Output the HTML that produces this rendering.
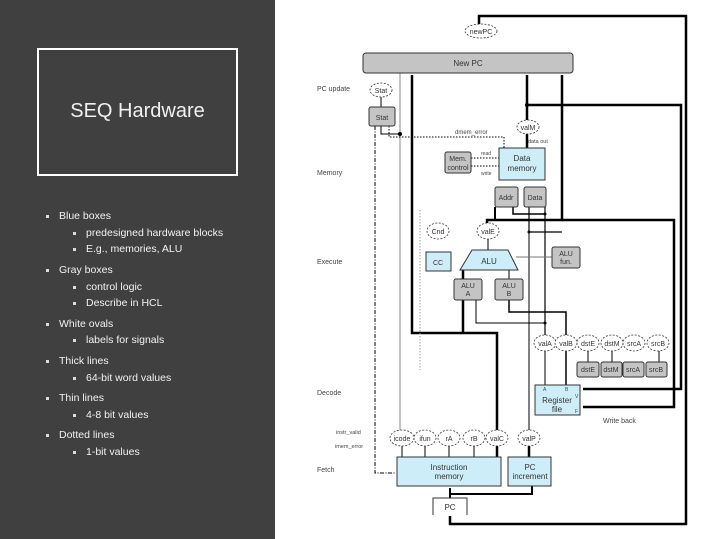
<!DOCTYPE html>
<html><head><meta charset="utf-8"><style>
html,body{margin:0;padding:0;width:719px;height:539px;overflow:hidden;background:#fff;font-family:"Liberation Sans",sans-serif}
#left{position:absolute;left:0;top:0;width:275px;height:539px;background:#404040;color:#fff}
#tb{position:absolute;left:37px;top:48px;width:197px;height:124px;border:2px solid #fff}
#tb div{position:absolute;left:0;right:0;top:50px;text-align:center;font-size:20px;font-weight:300;color:#f0f0f0}
.b{position:absolute;font-size:10.5px;color:#f2f2f2;white-space:nowrap}
.b:before{content:"";position:absolute;left:-13px;top:5px;width:3px;height:3px;background:#ddd}
svg{position:absolute;left:0;top:0}
</style></head><body>
<div id="left">
<div id="tb"><div>SEQ Hardware</div></div>
<div class="b" style="left:59px;top:210px">Blue boxes</div>
<div class="b" style="left:86px;top:227px">predesigned hardware blocks</div>
<div class="b" style="left:86px;top:243px">E.g., memories, ALU</div>
<div class="b" style="left:59px;top:264px">Gray boxes</div>
<div class="b" style="left:86px;top:281px">control logic</div>
<div class="b" style="left:86px;top:297px">Describe in HCL</div>
<div class="b" style="left:59px;top:318px">White ovals</div>
<div class="b" style="left:86px;top:334px">labels for signals</div>
<div class="b" style="left:59px;top:355px">Thick lines</div>
<div class="b" style="left:86px;top:372px">64-bit word values</div>
<div class="b" style="left:59px;top:392px">Thin lines</div>
<div class="b" style="left:86px;top:409px">4-8 bit values</div>
<div class="b" style="left:59px;top:429px">Dotted lines</div>
<div class="b" style="left:86px;top:446px">1-bit values</div>
</div>
<svg width="719" height="539" viewBox="0 0 719 539" font-family="Liberation Sans, sans-serif" font-size="7" fill="#333">
<g stroke="#000" fill="none">
<!-- outer loop -->
<polyline points="479,25 479,16 686,16 686,524 450,524 450,516" stroke-width="2.5"/>
<!-- valM -->
<polyline points="527,120 527,75" stroke-width="2.5"/>
<polyline points="527,105 681,105 681,389 583,389" stroke-width="2.5"/>
<line x1="527" y1="148" x2="527" y2="134" stroke-width="2.5"/>
<!-- valE -->
<polyline points="562,75 562,220 487,220 487,224" stroke-width="2.5"/>
<polyline points="562,220 674,220 674,407 583,407" stroke-width="2.5"/>
<line x1="488" y1="238" x2="488" y2="250" stroke-width="1"/>
<polyline points="495,207 495,220" stroke-width="2"/>
<!-- data lines -->
<polyline points="529,207 529,232 562,232" stroke-width="1.2"/>
<polyline points="545,207 545,336" stroke-width="1.2"/>
<polyline points="513,207 513,214 545,214" stroke-width="1.5"/>
<polyline points="476,300 476,323 545,323" stroke-width="1"/>
<polyline points="509,300 509,312 566,312 566,336" stroke-width="1.5"/>
<line x1="529" y1="232" x2="529" y2="450" stroke-width="1"/>
<!-- valC / x412 -->
<polyline points="412,75 412,333 497,333 497,431" stroke-width="2.5"/>
<line x1="463" y1="333" x2="463" y2="300" stroke-width="2.5"/>
<line x1="412" y1="75" x2="412" y2="333" stroke-width="1"/>
<line x1="400" y1="73" x2="400" y2="431" stroke="#888" stroke-width="1"/>
<line x1="529" y1="431" x2="529" y2="386" stroke-width="1"/>
<line x1="545" y1="350" x2="545" y2="385" stroke-width="1"/>
<line x1="566" y1="350" x2="566" y2="385" stroke-width="1.5"/>
<line x1="463" y1="270" x2="463" y2="279" stroke-width="2.5"/>
<line x1="509" y1="270" x2="509" y2="279" stroke-width="1"/>
<line x1="552" y1="257" x2="516" y2="257" stroke="#777" stroke-width="1"/>
<!-- fetch lines -->
<g stroke-width="1"><line x1="402" y1="457" x2="402" y2="445"/><line x1="425" y1="457" x2="425" y2="445"/><line x1="449" y1="457" x2="449" y2="445"/><line x1="474" y1="457" x2="474" y2="445"/></g>
<line x1="497" y1="457" x2="497" y2="445" stroke-width="2.5"/>
<line x1="529" y1="457" x2="529" y2="445" stroke-width="2.5"/>
<polyline points="450,498 450,488 450,494 532,494 532,486" stroke-width="2"/>
<!-- stat lines -->
<polyline points="381,126 381,134 400,134" stroke-width="1"/>
<line x1="381" y1="97" x2="381" y2="107" stroke-width="1"/>
<polyline points="389,126 389,137 504,137 504,148" stroke-dasharray="1.5,1.5" stroke-width="1"/>
<polyline points="375,126 375,473 395,473" stroke-dasharray="4,1.5,1,1.5" stroke-width="1"/>
<line x1="420" y1="210" x2="420" y2="370" stroke="#999" stroke-dasharray="1.5,1.5"/>
<line x1="471" y1="158" x2="499" y2="158" stroke-dasharray="1.5,1.5"/>
<line x1="471" y1="166" x2="499" y2="166" stroke-dasharray="1.5,1.5"/>
<line x1="612" y1="350" x2="612" y2="362"/>
<line x1="588" y1="350" x2="588" y2="362"/>
<line x1="659" y1="350" x2="659" y2="362"/>
</g>
<!-- boxes -->
<g stroke="#333" stroke-width="1">
<rect x="363" y="53" width="210" height="20" rx="3" fill="#c4c4c4"/>
<rect x="369" y="107" width="26" height="19" rx="2" fill="#c4c4c4"/>
<rect x="445" y="152" width="26" height="21" rx="2" fill="#c4c4c4"/>
<rect x="499" y="148" width="46" height="32" fill="#cdeef8"/>
<rect x="495" y="187" width="23" height="20" rx="2" fill="#c4c4c4"/>
<rect x="524" y="187" width="22" height="20" rx="2" fill="#c4c4c4"/>
<rect x="426" y="252" width="25" height="19" fill="#cdeef8"/>
<polygon points="472,250 508,250 518,270 460,270" fill="#cdeef8"/>
<rect x="552" y="247" width="28" height="21" rx="2" fill="#c4c4c4"/>
<rect x="454" y="279" width="28" height="21" rx="2" fill="#c4c4c4"/>
<rect x="495" y="279" width="28" height="21" rx="2" fill="#c4c4c4"/>
<rect x="577" y="362" width="22" height="15" rx="2" fill="#c4c4c4"/>
<rect x="601" y="362" width="21" height="15" rx="2" fill="#c4c4c4"/>
<rect x="623" y="362" width="21" height="15" rx="2" fill="#c4c4c4"/>
<rect x="646" y="362" width="21" height="15" rx="2" fill="#c4c4c4"/>
<rect x="535" y="385" width="45" height="30" fill="#cdeef8"/>
<rect x="397" y="457" width="104" height="29" fill="#cdeef8"/>
<rect x="508" y="457" width="43" height="29" fill="#cdeef8"/>
<polyline points="433,515 433,498 467,498 467,515" fill="none"/>
</g>
<g stroke="#333" stroke-width="0.8" stroke-dasharray="2,1.5" fill="#fff">
<ellipse cx="481" cy="31" rx="16" ry="7"/>
<ellipse cx="381" cy="90" rx="11" ry="7"/>
<ellipse cx="528" cy="127" rx="11" ry="7"/>
<ellipse cx="438" cy="231" rx="11" ry="8"/>
<ellipse cx="488" cy="231" rx="11" ry="8"/>
<ellipse cx="545" cy="343" rx="11" ry="8"/><ellipse cx="566" cy="343" rx="11" ry="8"/>
<ellipse cx="588" cy="343" rx="11" ry="8"/><ellipse cx="612" cy="343" rx="11" ry="8"/>
<ellipse cx="634" cy="343" rx="11" ry="8"/><ellipse cx="658" cy="343" rx="11" ry="8"/>
<ellipse cx="402" cy="438" rx="12" ry="8"/><ellipse cx="425" cy="438" rx="11" ry="8"/>
<ellipse cx="449" cy="438" rx="11" ry="8"/><ellipse cx="474" cy="438" rx="11" ry="8"/>
<ellipse cx="497" cy="438" rx="11" ry="8"/><ellipse cx="529" cy="438" rx="11" ry="8"/>
</g>
<g fill="#000"><circle cx="527" cy="105" r="2"/><circle cx="400" cy="134" r="2"/><circle cx="545" cy="214" r="1.5"/><circle cx="529" cy="232" r="1.5"/><circle cx="545" cy="323" r="1.5"/></g>
<g text-anchor="middle" fill="#333">
<text x="481" y="34">newPC</text><text x="468" y="66" font-size="8">New PC</text>
<text x="381" y="93">Stat</text><text x="382" y="120">Stat</text>
<text x="528" y="130">valM</text><text x="458" y="161">Mem.</text><text x="458" y="170">control</text>
<text x="522" y="161" font-size="8">Data</text><text x="522" y="171" font-size="8">memory</text>
<text x="506" y="200">Addr</text><text x="535" y="200">Data</text>
<text x="438" y="234">Cnd</text><text x="488" y="234">valE</text>
<text x="438" y="265">CC</text><text x="489" y="264" font-size="8">ALU</text>
<text x="566" y="256">ALU</text><text x="566" y="264">fun.</text>
<text x="468" y="288">ALU</text><text x="468" y="296">A</text><text x="509" y="288">ALU</text><text x="509" y="296">B</text>
<text x="545" y="346">valA</text><text x="566" y="346">valB</text><text x="588" y="346">dstE</text><text x="612" y="346">dstM</text><text x="634" y="346">srcA</text><text x="658" y="346">srcB</text>
<text x="588" y="372">dstE</text><text x="611" y="372">dstM</text><text x="633" y="372">srcA</text><text x="656" y="372">srcB</text>
<text x="557" y="403" font-size="8">Register</text><text x="557" y="412" font-size="8">file</text>
<text x="402" y="441">icode</text><text x="425" y="441">ifun</text><text x="449" y="441">rA</text><text x="474" y="441">rB</text><text x="497" y="441">valC</text><text x="529" y="441">valP</text>
<text x="449" y="470" font-size="8">Instruction</text><text x="449" y="479" font-size="8">memory</text>
<text x="530" y="470" font-size="8">PC</text><text x="530" y="479" font-size="8">increment</text>
<text x="450" y="510" font-size="8">PC</text>
</g>
<g fill="#444">
<text x="317" y="91">PC update</text><text x="317" y="175">Memory</text><text x="317" y="264">Execute</text>
<text x="317" y="395">Decode</text><text x="317" y="472">Fetch</text><text x="603" y="423">Write back</text>
<text x="455" y="134" font-size="6">dmem_error</text><text x="528" y="143" font-size="5.5">data out</text>
<text x="481" y="155" font-size="5">read</text><text x="481" y="175" font-size="5">write</text>
<text x="336" y="434" font-size="5.5">instr_valid</text><text x="335" y="448" font-size="5.5">imem_error</text>
<text x="543" y="391" font-size="5">A</text><text x="565" y="391" font-size="5">B</text><text x="575" y="398" font-size="5">V</text><text x="575" y="413" font-size="5">F</text>
</g>
</svg>
</body></html>
